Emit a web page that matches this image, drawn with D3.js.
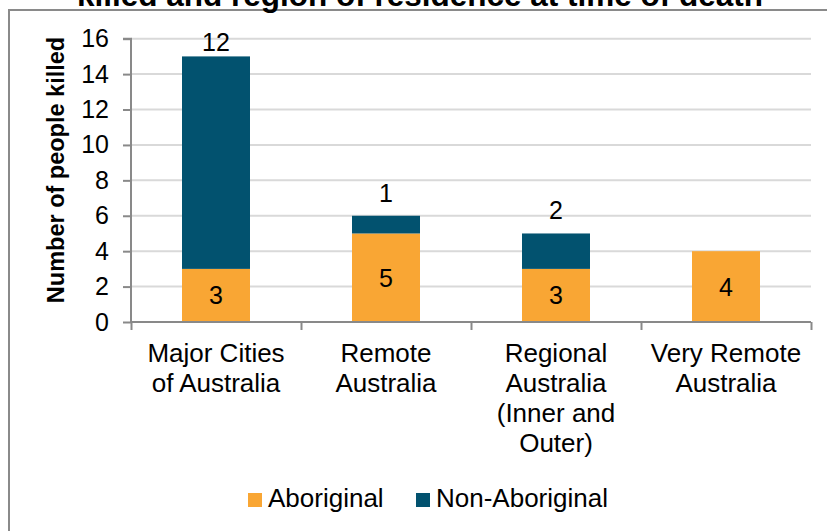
<!DOCTYPE html>
<html>
<head>
<meta charset="utf-8">
<script src="https://cdn.jsdelivr.net/npm/d3@7"></script>
<style>
  body { margin: 0; background: #fff; }
  svg { display: block; font-family: "Liberation Sans", Arial, sans-serif; }
</style>
</head>
<body>
<svg id="chart"></svg>
<script>
let categories = [
    ['Major Cities', 'of Australia'],
    ['Remote', 'Australia'],
    ['Regional', 'Australia', '(Inner and', 'Outer)'],
    ['Very Remote', 'Australia']
]
let aboriginal = [3, 5, 3, 4]
let nonAboriginal = [12, 1, 2, 0]
let seriesNames = ['Aboriginal', 'Non-Aboriginal']
let seriesColors = ['#F9A634', '#02526F']
let yTicks = [0, 2, 4, 6, 8, 10, 12, 14, 16]

let width = 827
let height = 531

let svg = d3.select('#chart')
    .attr('width', width)
    .attr('height', height)

// outer frame (runs past the right and bottom edges)
svg.append('rect')
    .attr('x', 9).attr('y', 10)
    .attr('width', 840).attr('height', 540)
    .attr('fill', 'none')
    .attr('stroke', '#8a8a8a')
    .attr('stroke-width', 2)

// title, clipped at the top like the source
svg.append('text')
    .attr('x', 420).attr('y', 6)
    .attr('text-anchor', 'middle')
    .attr('font-size', 31.5)
    .attr('font-weight', 'bold')
    .text('killed and region of residence at time of death')

let xScale = d3.scaleBand()
    .domain(d3.range(categories.length))
    .range([131, 811])
    .paddingInner(0.6)
    .paddingOuter(0.3)

let yScale = d3.scaleLinear()
    .domain([0, 16])
    .range([322, 38.7])

// gridlines
svg.append('g')
    .selectAll('line')
    .data(yTicks.slice(1))
    .enter()
    .append('line')
    .attr('x1', 131).attr('x2', 811)
    .attr('y1', (d) => yScale(d)).attr('y2', (d) => yScale(d))
    .attr('stroke', '#d9d9d9')
    .attr('stroke-width', 2)

// stacked bars
let rows = aboriginal.map((a, i) => ({ i: i, Aboriginal: a, 'Non-Aboriginal': nonAboriginal[i] }))
let stacked = d3.stack().keys(seriesNames)(rows)

svg.append('g')
    .selectAll('g')
    .data(stacked)
    .enter()
    .append('g')
    .attr('fill', (d, k) => seriesColors[k])
    .selectAll('rect')
    .data((d) => d.filter((s) => s[1] > s[0]))
    .enter()
    .append('rect')
    .attr('x', (s) => xScale(s.data.i))
    .attr('width', xScale.bandwidth())
    .attr('y', (s) => yScale(s[1]))
    .attr('height', (s) => yScale(s[0]) - yScale(s[1]))

// labels: Aboriginal centred inside, Non-Aboriginal above the bar
svg.append('g')
    .selectAll('text')
    .data(aboriginal)
    .enter()
    .append('text')
    .attr('x', (d, i) => xScale(i) + xScale.bandwidth() / 2)
    .attr('y', (d) => yScale(d / 2))
    .attr('dy', '0.36em')
    .attr('text-anchor', 'middle')
    .attr('font-size', 25)
    .text((d) => d)

svg.append('g')
    .selectAll('text')
    .data(rows.filter((r) => r['Non-Aboriginal'] > 0))
    .enter()
    .append('text')
    .attr('x', (r) => xScale(r.i) + xScale.bandwidth() / 2)
    // kept inside the plot area, as Excel does
    .attr('y', (r) => Math.max(yScale(r.Aboriginal + r['Non-Aboriginal']) - 14, yScale(16) + 12.5))
    .attr('text-anchor', 'middle')
    .attr('font-size', 25)
    .text((r) => r['Non-Aboriginal'])

// y axis
let yAxis = d3.axisLeft(yScale)
    .tickValues(yTicks)
    .tickSize(8)
    .tickPadding(14)

let yG = svg.append('g')
    .attr('transform', 'translate(131, 0)')
    .call(yAxis)
yG.select('.domain').attr('stroke', '#898989').attr('stroke-width', 2)
    .attr('d', 'M-8,' + yScale(16) + 'H0V' + yScale(0))
yG.selectAll('.tick line').attr('stroke', '#898989').attr('stroke-width', 2)
yG.selectAll('.tick text')
    .attr('font-size', 25)
    .attr('font-family', null)
    .attr('fill', '#000')

// x axis
let xBounds = d3.scaleLinear().domain([0, categories.length]).range([131, 811])
let xG = svg.append('g')
    .attr('transform', 'translate(0, 322)')
    .call(d3.axisBottom(xBounds).ticks(categories.length).tickSize(8).tickFormat(''))
xG.select('.domain').attr('stroke', '#898989').attr('stroke-width', 2)
    .attr('d', 'M131,0H811')
xG.selectAll('.tick line').attr('stroke', '#898989').attr('stroke-width', 2)

svg.append('g')
    .selectAll('text')
    .data(categories)
    .enter()
    .append('text')
    .attr('text-anchor', 'middle')
    .attr('font-size', 26)
    .attr('x', (d, i) => xScale(i) + xScale.bandwidth() / 2)
    .attr('y', 362)
    .selectAll('tspan')
    .data((d) => d)
    .enter()
    .append('tspan')
    .attr('x', function () { return d3.select(this.parentNode).attr('x') })
    .attr('dy', (d, j) => j === 0 ? 0 : 30)
    .text((d) => d)

// y axis title
svg.append('text')
    .attr('transform', 'translate(64, 170) rotate(-90)')
    .attr('text-anchor', 'middle')
    .attr('font-size', 23.5)
    .attr('font-weight', 'bold')
    .text('Number of people killed')

// legend
let legendX = [248, 416]
let legend = svg.append('g')
    .selectAll('g')
    .data(seriesNames)
    .enter()
    .append('g')
    .attr('transform', (d, i) => 'translate(' + legendX[i] + ', 493)')
legend.append('rect')
    .attr('width', 14).attr('height', 14)
    .attr('fill', (d, i) => seriesColors[i])
legend.append('text')
    .attr('x', 20).attr('y', 14)
    .attr('font-size', 26)
    .text((d) => d)
</script>
</body>
</html>
